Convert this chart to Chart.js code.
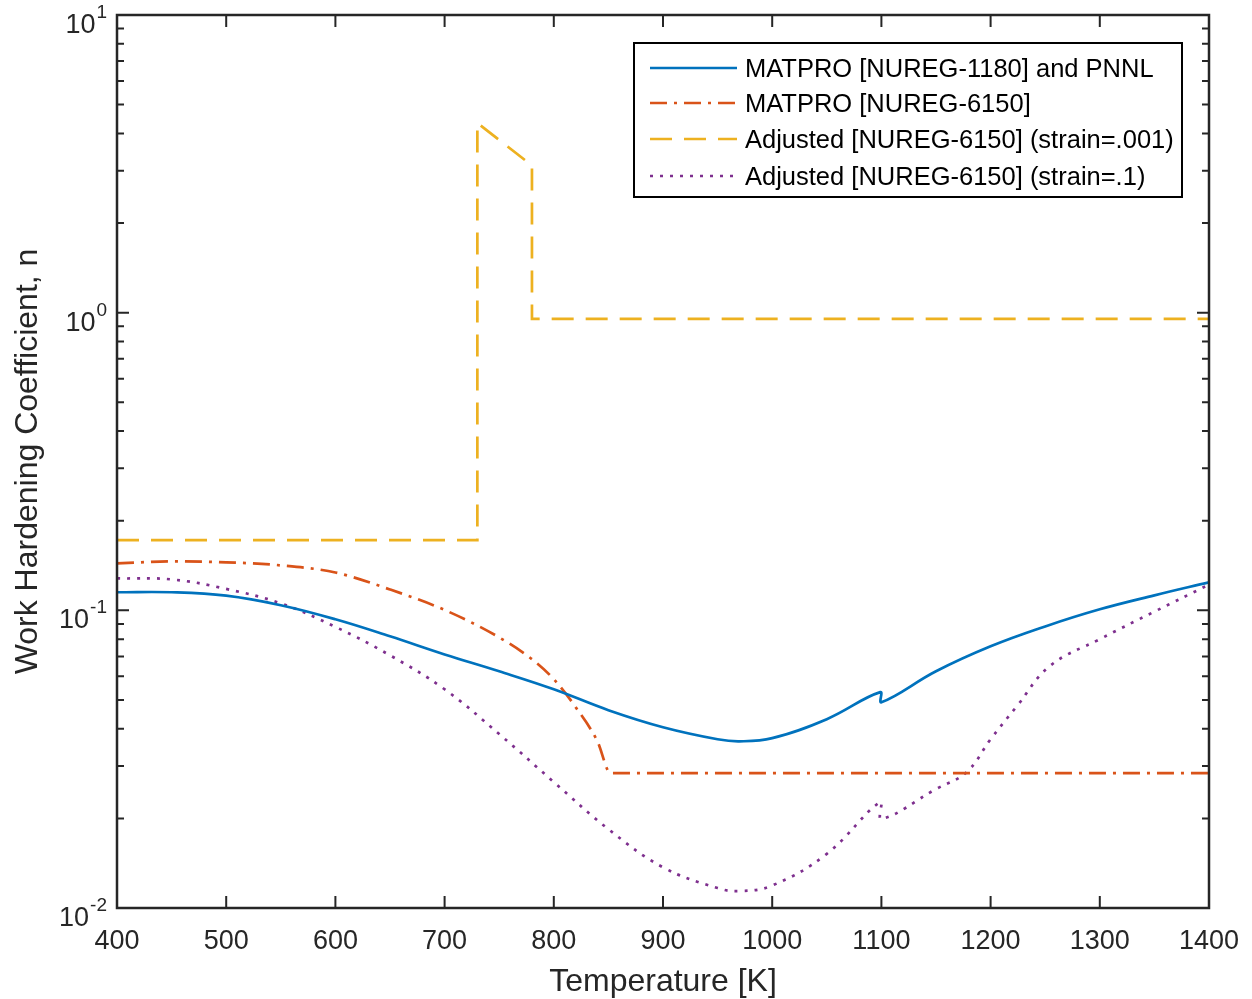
<!DOCTYPE html>
<html>
<head>
<meta charset="utf-8">
<title>Work Hardening Coefficient vs Temperature</title>
<script src="https://cdn.jsdelivr.net/npm/chart.js@4.4.1/dist/chart.umd.min.js"></script>
<style>
  html, body { margin: 0; padding: 0; background: #fff; }
  canvas { display: block; }
</style>
</head>
<body>
<canvas id="nChart" width="1252" height="999"></canvas>
<script>
// MATPRO [NUREG-1180] and PNNL (step at 1100 K)
const matproT = [400, 450, 500, 550, 600, 650, 700, 750, 800, 850, 900, 950, 970, 1000, 1050, 1099, 1100, 1150, 1200, 1250, 1300, 1350, 1400];
const matproN = [0.1150, 0.1150, 0.1120, 0.1040, 0.0933, 0.0818, 0.0711, 0.0624, 0.0543, 0.0462, 0.0405, 0.0369, 0.0363, 0.0372, 0.0431, 0.0531, 0.0491, 0.0624, 0.0757, 0.0883, 0.1008, 0.1123, 0.1242];

// MATPRO [NUREG-6150]
const nureg6150T = [400, 450, 500, 550, 600, 650, 700, 750, 780, 800, 820, 840, 852, 1400];
const nureg6150N = [0.1438, 0.1460, 0.1450, 0.1416, 0.1340, 0.1175, 0.1003, 0.0811, 0.0685, 0.0587, 0.0473, 0.0363, 0.0284, 0.0284];

// Adjusted [NUREG-6150], strain = .001
const adjLowT = [400, 730, 730, 780, 780, 1400];
const adjLowN = [0.172, 0.172, 4.34, 3.12, 0.953, 0.953];

// Adjusted [NUREG-6150], strain = .1
const adjHighT = [400, 450, 500, 550, 600, 650, 700, 750, 800, 850, 900, 950, 970, 1000, 1050, 1099, 1100, 1150, 1178, 1200, 1224, 1254, 1300, 1350, 1400];
const adjHighN = [0.128, 0.127, 0.118, 0.1055, 0.0880, 0.0706, 0.0543, 0.0384, 0.0265, 0.0184, 0.0137, 0.01167, 0.0114, 0.0119, 0.0152, 0.0227, 0.0199, 0.0251, 0.0286, 0.0369, 0.0476, 0.0649, 0.0800, 0.0990, 0.1220];

const seriesNames = [
  'MATPRO [NUREG-1180] and PNNL',
  'MATPRO [NUREG-6150]',
  'Adjusted [NUREG-6150] (strain=.001)',
  'Adjusted [NUREG-6150] (strain=.1)'
];

const xTicks = [400, 500, 600, 700, 800, 900, 1000, 1100, 1200, 1300, 1400];
const yTicks = [0.01, 0.1, 1, 10];
const yTickExp = ['-2', '-1', '0', '1'];

const AXIS = '#262626';
const FONT = '"Liberation Sans", Arial, Helvetica, sans-serif';

function pts(xs, ys) {
  return xs.map((t, i) => ({ x: t, y: ys[i] }));
}

// box, inward ticks, labels and legend in the MATLAB look
const matlabAxes = {
  id: 'matlabAxes',
  afterDatasetsDraw(chart) {
    const { ctx, chartArea: a } = chart;
    const x = chart.scales.x, y = chart.scales.y;
    ctx.save();
    ctx.strokeStyle = AXIS;
    ctx.lineWidth = 2;
    ctx.setLineDash([]);
    ctx.beginPath();
    xTicks.forEach(v => {
      const px = x.getPixelForValue(v);
      ctx.moveTo(px, a.bottom); ctx.lineTo(px, a.bottom - 12);
      ctx.moveTo(px, a.top); ctx.lineTo(px, a.top + 12);
    });
    for (let e = -2; e <= 1; e++) {
      for (let m = 1; m <= 9; m++) {
        const v = m * Math.pow(10, e);
        if (v > 10.0001) break;
        const py = y.getPixelForValue(v);
        const len = m === 1 ? 12 : 7;
        ctx.moveTo(a.left, py); ctx.lineTo(a.left + len, py);
        ctx.moveTo(a.right, py); ctx.lineTo(a.right - len, py);
      }
    }
    ctx.stroke();

    ctx.lineWidth = 2.5;
    ctx.strokeRect(a.left, a.top, a.right - a.left, a.bottom - a.top);

    // x tick labels
    ctx.fillStyle = AXIS;
    ctx.font = '27px ' + FONT;
    ctx.textAlign = 'center';
    ctx.textBaseline = 'alphabetic';
    xTicks.forEach(v => ctx.fillText(String(v), x.getPixelForValue(v), a.bottom + 41));

    // y tick labels as 10 with a raised exponent
    yTicks.forEach((v, i) => {
      const py = y.getPixelForValue(v);
      ctx.font = '19px ' + FONT;
      const ew = ctx.measureText(yTickExp[i]).width;
      ctx.textAlign = 'left';
      ctx.fillText(yTickExp[i], 107 - ew, py + 3);
      ctx.font = '27px ' + FONT;
      ctx.textAlign = 'right';
      ctx.fillText('10', 106 - ew, py + 18);
    });

    // axis titles
    ctx.font = '32px ' + FONT;
    ctx.textAlign = 'center';
    ctx.fillText('Temperature [K]', (a.left + a.right) / 2, 991);
    ctx.save();
    ctx.translate(37, (a.top + a.bottom) / 2);
    ctx.rotate(-Math.PI / 2);
    ctx.fillText('Work Hardening Coefficient, n', 0, 0);
    ctx.restore();

    // legend
    const lx = 634, ly = 43, lw = 548, lh = 154;
    ctx.fillStyle = '#fff';
    ctx.fillRect(lx, ly, lw, lh);
    ctx.strokeStyle = '#000';
    ctx.lineWidth = 2;
    ctx.strokeRect(lx, ly, lw, lh);
    const rows = [68, 103, 139, 176];
    chart.data.datasets.forEach((ds, i) => {
      ctx.strokeStyle = ds.borderColor;
      ctx.lineWidth = ds.borderWidth;
      ctx.setLineDash(ds.borderDash || []);
      ctx.beginPath();
      ctx.moveTo(650, rows[i]);
      ctx.lineTo(737, rows[i]);
      ctx.stroke();
      ctx.setLineDash([]);
      ctx.fillStyle = '#000';
      ctx.font = '25.5px ' + FONT;
      ctx.textAlign = 'left';
      ctx.fillText(ds.label, 745, rows[i] + 9);
    });
    ctx.restore();
  }
};

new Chart(document.getElementById('nChart'), {
  type: 'line',
  data: {
    datasets: [
      { label: seriesNames[0], data: pts(matproT, matproN), borderColor: '#0072BD', borderWidth: 2.7, tension: 0.4 },
      { label: seriesNames[1], data: pts(nureg6150T, nureg6150N), borderColor: '#D95319', borderWidth: 2.7, borderDash: [17, 7, 3, 7], cubicInterpolationMode: 'monotone' },
      { label: seriesNames[2], data: pts(adjLowT, adjLowN), borderColor: '#EDB120', borderWidth: 2.7, borderDash: [22, 12] },
      { label: seriesNames[3], data: pts(adjHighT, adjHighN), borderColor: '#7E2F8E', borderWidth: 2.7, borderDash: [3, 7], tension: 0.4 }
    ]
  },
  options: {
    responsive: false,
    animation: false,
    devicePixelRatio: 1,
    layout: { padding: { left: 117, top: 15, right: 43, bottom: 91 } },
    elements: {
      point: { radius: 0 },
      line: { tension: 0, borderCapStyle: 'butt', borderJoinStyle: 'miter', fill: false }
    },
    scales: {
      x: { type: 'linear', min: 400, max: 1400, display: false },
      y: { type: 'logarithmic', min: 0.01, max: 10, display: false }
    },
    plugins: {
      legend: { display: false },
      tooltip: { enabled: false }
    }
  },
  plugins: [matlabAxes]
});
</script>
</body>
</html>
